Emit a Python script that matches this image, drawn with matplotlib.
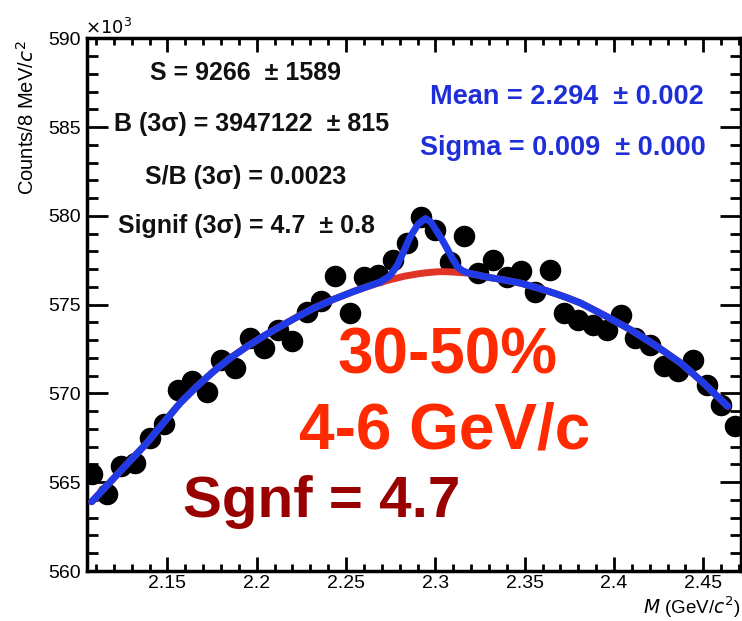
import matplotlib
matplotlib.use("Agg")
import matplotlib.pyplot as plt
from matplotlib.ticker import MultipleLocator

plt.rcParams['font.family'] = ['Liberation Sans', 'DejaVu Sans']

# data points (mass in GeV/c^2, counts in units of 10^3)
mass = [2.108 + 0.008 * k for k in range(46)]
counts = [565.48, 564.34, 565.90, 566.08, 567.49, 568.30, 570.20, 570.68, 570.10, 571.90,
          571.43, 573.12, 572.55, 573.58, 572.93, 574.60, 575.20, 576.62, 574.52, 576.58,
          576.68, 577.52, 578.46, 579.96, 579.20, 577.43, 578.84, 576.77, 577.52, 576.58,
          576.87, 575.74, 576.96, 574.52, 574.15, 573.87, 573.58, 574.43, 573.12, 572.74,
          571.52, 571.24, 571.90, 570.49, 569.36, 568.14]

# total fit (blue)
fit_mass = [2.1076, 2.1197, 2.1290, 2.1384, 2.1478, 2.1571, 2.1665, 2.1758, 2.1850,
            2.1945, 2.2040, 2.2131, 2.2225, 2.2318, 2.2430, 2.2542, 2.2620, 2.2692,
            2.2745, 2.2786, 2.2825, 2.2860, 2.2905, 2.2944, 2.2975, 2.3010, 2.3040,
            2.3066, 2.3095, 2.3122, 2.3150, 2.3178, 2.3230, 2.3290, 2.3380, 2.3477,
            2.3570, 2.3664, 2.3740, 2.3813, 2.3950, 2.4094, 2.4230, 2.4374, 2.4500,
            2.4637]
fit_total = [563.90, 565.20, 566.20, 567.20, 568.35, 569.46, 570.40, 571.24, 571.98,
             572.64, 573.24, 573.77, 574.30, 574.80, 575.30, 575.74, 576.02, 576.28,
             576.62, 577.20, 578.05, 578.84, 579.55, 579.85, 579.65, 579.10, 578.62,
             578.15, 577.60, 577.15, 576.92, 576.80, 576.68, 576.55, 576.40, 576.21,
             575.95, 575.65, 575.38, 575.09, 574.38, 573.58, 572.72, 571.71, 570.60,
             569.27]
# background only (red)
fit_bkg = [563.90, 565.20, 566.20, 567.20, 568.35, 569.46, 570.40, 571.24, 571.98,
           572.64, 573.24, 573.77, 574.30, 574.80, 575.30, 575.74, 576.02, 576.25,
           576.40, 576.50, 576.60, 576.66, 576.74, 576.79, 576.82, 576.85, 576.86,
           576.85, 576.84, 576.82, 576.80, 576.78, 576.68, 576.55, 576.40, 576.21,
           575.95, 575.65, 575.38, 575.09, 574.38, 573.58, 572.72, 571.71, 570.60,
           569.27]

W, H = 742, 621
fig = plt.figure(figsize=(W / 100, H / 100), dpi=100)
ax = fig.add_axes([86.7 / W, 1 - 571 / H, (741 - 86.7) / W, (571 - 38.3) / H])

ax.plot(fit_mass, fit_bkg, color='#e03524', lw=5, solid_capstyle='round',
        solid_joinstyle='round', zorder=3)
ax.plot(mass, counts, 'o', color='black', ms=14.5, zorder=2)
ax.plot(fit_mass, fit_total, color='#1f3be8', lw=5, solid_capstyle='round',
        solid_joinstyle='round', zorder=4)

ax.set_xlim(2.1048, 2.4711)
ax.set_ylim(560, 590)
ax.xaxis.set_minor_locator(MultipleLocator(0.01))
ax.yaxis.set_minor_locator(MultipleLocator(1))
ax.set_xticks([2.15, 2.2, 2.25, 2.3, 2.35, 2.4, 2.45])
ax.set_xticklabels(['2.15', '2.2', '2.25', '2.3', '2.35', '2.4', '2.45'])
ax.set_yticks([560, 565, 570, 575, 580, 585, 590])
ax.set_yticklabels(['560', '565', '570', '575', '580', '585', '590'])
ax.tick_params(axis='both', which='both', direction='in', top=True, right=True,
               labelsize=14, width=2)
ax.tick_params(axis='y', which='major', length=15, pad=4)
ax.tick_params(axis='y', which='minor', length=8)
ax.tick_params(axis='x', which='major', length=10, pad=3)
ax.tick_params(axis='x', which='minor', length=5)
for s in ax.spines.values():
    s.set_linewidth(2.5)

def px(x, y):
    return x / W, 1 - y / H

fig.text(*px(85, 38), r'$\times10^{3}$', fontsize=13, va='bottom', ha='left')
fig.text(*px(27, 40), r'Counts/8 MeV/$c^{2}$', rotation=90, fontsize=14.5,
         ha='center', va='top')
fig.text(*px(741, 620), r'$M$ (GeV/$c^{2}$)', fontsize=13.5, ha='right', va='bottom')

stats = [("S = 9266  \u00b1 1589", 246, 73),
         ("B (3\u03c3) = 3947122  \u00b1 815", 252, 124),
         ("S/B (3\u03c3) = 0.0023", 246, 177),
         ("Signif (3\u03c3) = 4.7  \u00b1 0.8", 246, 226)]
for txt, x, y in stats:
    fig.text(*px(x, y), txt, fontsize=18, fontweight='bold', ha='center', va='center',
             color='#111111')

fig.text(*px(567, 97), "Mean = 2.294  \u00b1 0.002", fontsize=19.5, fontweight='bold',
         ha='center', va='center', color='#1f2fd8')
fig.text(*px(563, 148), "Sigma = 0.009  \u00b1 0.000", fontsize=19.5, fontweight='bold',
         ha='center', va='center', color='#1f2fd8')

fig.text(*px(447, 357), "30-50%", fontsize=46, fontweight='bold', ha='center',
         va='center', color='#ff2a00')
fig.text(*px(445, 432), "4-6 GeV/c", fontsize=46, fontweight='bold', ha='center',
         va='center', color='#ff2a00')
fig.text(*px(322, 502), "Sgnf = 4.7", fontsize=42, fontweight='bold', ha='center',
         va='center', color='#990000')

fig.savefig('out.png', dpi=100)
